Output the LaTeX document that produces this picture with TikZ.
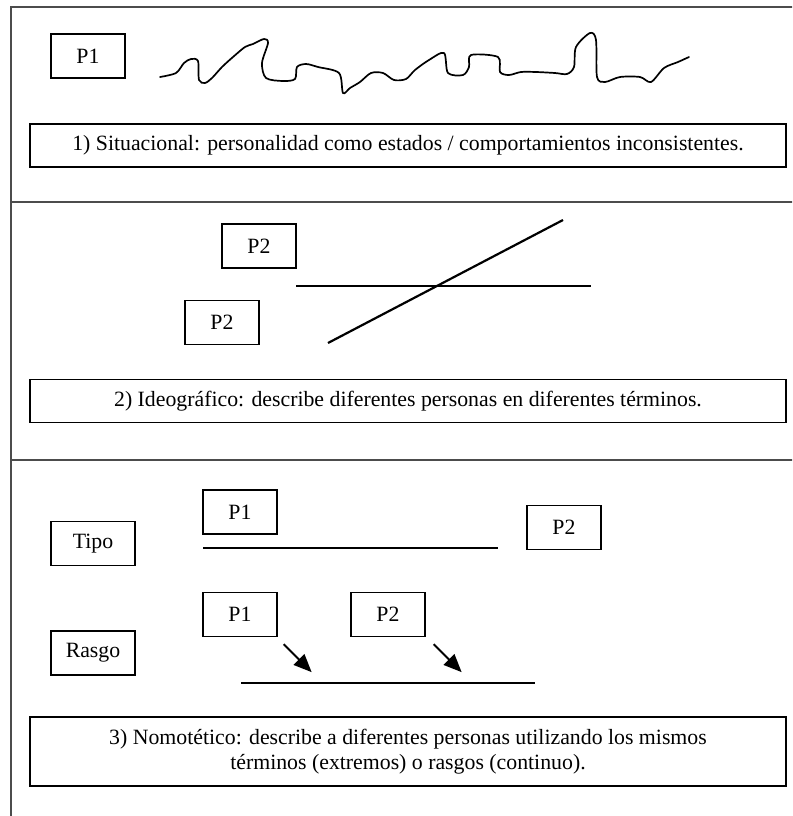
\documentclass[tikz,border=0pt]{standalone}
\usepackage{fontspec}
\setmainfont{Liberation Serif}
\usetikzlibrary{arrows.meta}
\tikzset{
  marco/.style={draw=black!70, line width=1.2pt},
  caja/.style={draw, line width=1.3pt, minimum width=74pt, minimum height=44pt, inner sep=0pt},
  leyenda/.style={draw, line width=1.3pt, minimum width=756pt, minimum height=43pt, align=center, inner sep=0pt},
  escala/.style={line width=2.5pt},
  flecha/.style={->, line width=2pt},
}
\begin{document}
\begin{tikzpicture}[x=1pt, y=-1pt, >={Triangle[length=18pt,width=15pt]}, font=\fontsize{21.8}{25}\selectfont]
    \useasboundingbox (0,0) rectangle (792,816);
    \clip (0,0) rectangle (792,816);
    \draw[marco] (11,830)--(11,7)--(800,7);
    \draw[marco] (11,202)--(800,202);
    \draw[marco] (11,460)--(800,460);
    % 1) situacional
    \node[caja] (sp1) at (88,56) {P1};
    \draw[line width=1.7pt, line join=round, line cap=round] plot[smooth, tension=.5] coordinates {
      (160,77) (176,73) (184,63) (191,59) (198,61) (199,80) (205,83) (212,78)
      (222,67) (233,57) (245,47) (253,44) (264,39) (268,43) (262,63) (266,78)
      (283,81) (295,79) (297,67) (306,64) (318,67) (339,73) (343,93) (350,88)
      (360,82) (371,73) (383,73) (394,80) (406,79) (415,70) (429,60) (444,53)
      (448,73) (463,75) (469,67) (471,55) (498,57) (500,72) (509,75) (521,72)
      (536,72) (555,73) (567,74) (574,67) (576,47) (590,33) (596,40) (597,77)
      (605,82) (620,77) (640,77) (651,82) (664,68) (678,62) (689,57)};
    \node[leyenda] (ley1) at (408,145.5) {1) Situacional: personalidad como estados / comportamientos inconsistentes.};
    % 2) ideografico
    \node[caja] (ip2a) at (259,246) {P2};
    \node[caja] (ip2b) at (222,322.5) {P2};
    \draw[escala] (296,286)--(591,286);
    \draw[line width=2.2pt] (328,343)--(563,220);
    \node[leyenda] (ley2) at (408,401) {2) Ideográfico: describe diferentes personas en diferentes términos.};
    % 3) nomotetico
    \node[caja, minimum width=84pt] (tipo) at (93,543.5) {Tipo};
    \node[caja] (tp1) at (240,512) {P1};
    \node[caja] (tp2) at (564,527.5) {P2};
    \draw[escala] (203,548)--(498,548);
    \node[caja, minimum width=84pt] (rasgo) at (93,653) {Rasgo};
    \node[caja] (rp1) at (240,614.5) {P1};
    \node[caja] (rp2) at (388,614.5) {P2};
    \draw[escala] (241,683)--(535,683);
    \draw[flecha] (rp1.south east) ++(6,7) -- ++(28,28);
    \draw[flecha] (rp2.south east) ++(8,7) -- ++(28,28);
    \node[leyenda, minimum height=69pt] (ley3) at (408,751.5) {3) Nomotético: describe a diferentes personas utilizando los mismos\\términos (extremos) o rasgos (continuo).};
\end{tikzpicture}
\end{document}
